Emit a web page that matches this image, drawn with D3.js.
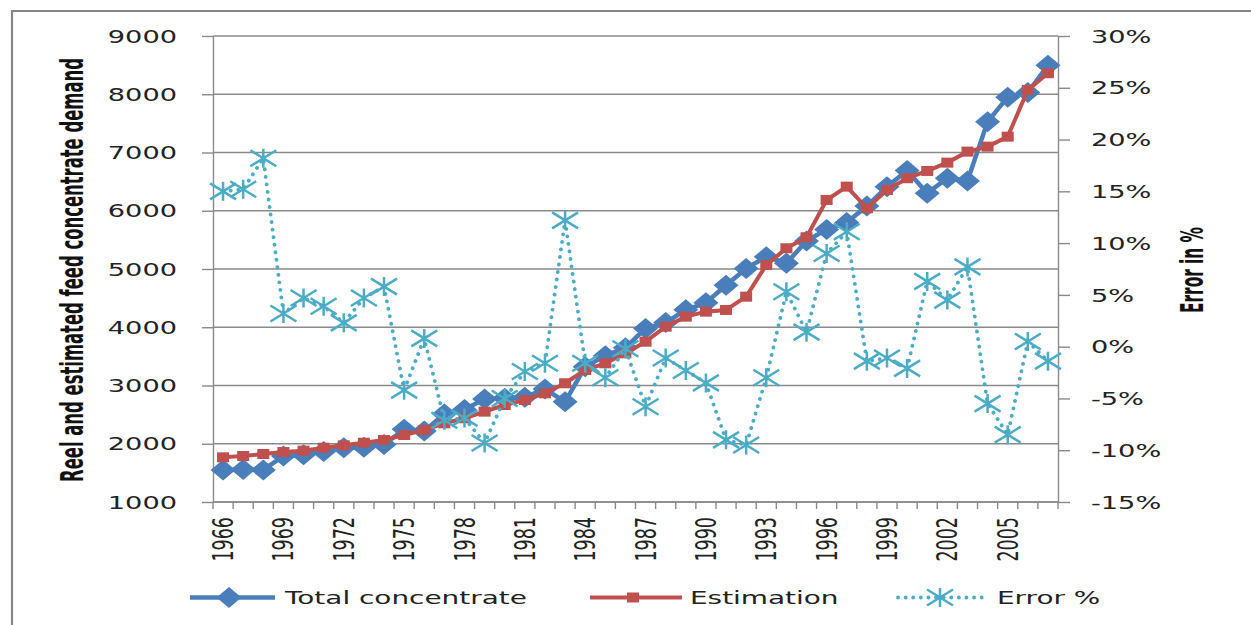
<!DOCTYPE html>
<html>
<head>
<meta charset="utf-8">
<script src="https://cdn.jsdelivr.net/npm/d3@7"></script>
<style>
  html, body { margin: 0; padding: 0; background: #fff; }
  svg { display: block; }
</style>
</head>
<body>
<svg id="chart" width="1251" height="625"></svg>
<script>
const years = [1966,1967,1968,1969,1970,1971,1972,1973,1974,1975,1976,1977,1978,1979,1980,1981,1982,1983,1984,1985,1986,1987,1988,1989,1990,1991,1992,1993,1994,1995,1996,1997,1998,1999,2000,2001,2002,2003,2004,2005,2006,2007];
const totalConcentrate = [1550,1560,1550,1790,1810,1865,1930,1940,1985,2250,2220,2510,2590,2770,2780,2800,2940,2720,3320,3510,3650,3980,4080,4300,4420,4720,5010,5210,5100,5480,5680,5800,6080,6410,6690,6300,6560,6510,7530,7950,8030,8500];
const estimation = [1767,1790,1824,1858,1881,1932,1973,2018,2064,2150,2236,2351,2437,2551,2665,2751,2866,3038,3266,3381,3553,3752,4010,4182,4268,4297,4525,5069,5356,5545,6185,6414,6043,6357,6558,6683,6826,7015,7101,7272,8074,8361];
const errorPct = [15.0,15.2,18.2,3.2,4.7,3.9,2.3,4.7,5.8,-4.2,0.8,-7.1,-6.9,-9.3,-5.0,-2.4,-1.6,12.2,-1.6,-3.0,-0.2,-5.8,-1.1,-2.3,-3.5,-9.0,-9.5,-3.0,5.3,1.4,9.0,11.1,-1.4,-1.1,-2.1,6.3,4.5,7.7,-5.5,-8.5,0.5,-1.4];
const leftTicks = [1000,2000,3000,4000,5000,6000,7000,8000,9000];
const rightTicks = [-15,-10,-5,0,5,10,15,20,25,30];
const xLabelYears = [1966,1969,1972,1975,1978,1981,1984,1987,1990,1993,1996,1999,2002,2005];
const seriesNames = ["Total concentrate", "Estimation", "Error %"];
const leftTitle = "Reel and estimated feed concentrate demand";
const rightTitle = "Error in %";

const C_BLUE = "#4a7ebb", C_RED = "#c0504d", C_AQUA = "#4bacc6", C_GRID = "#8a8a8a";
const SX = 1.6;
const FONT = "'DejaVu Sans', Verdana, sans-serif";
const TFONT = "'Liberation Sans Narrow', 'DejaVu Sans Condensed', 'Arial Narrow', sans-serif";

const svg = d3.select("#chart");
const L = 213, R = 1058, T = 36, B = 502;

const x = d3.scaleBand().domain(years).range([L, R]);
const y = d3.scaleLinear().domain([1000, 9000]).range([B, T]);
const y2 = d3.scaleLinear().domain([-15, 30]).range([B, T]);
const cx = d => x(d) + x.bandwidth() / 2;

// outer frame
svg.append("path").attr("d", "M12,630 L12,11 L1260,11")
  .attr("fill", "none").attr("stroke", "#858585").attr("stroke-width", 2.2);

// gridlines
svg.append("g").selectAll("line").data(leftTicks).join("line")
  .attr("x1", L).attr("x2", R).attr("y1", d => y(d)).attr("y2", d => y(d))
  .attr("stroke", C_GRID).attr("stroke-width", 1.4);

// left axis
const gl = svg.append("g").attr("transform", `translate(${L},0)`)
  .call(d3.axisLeft(y).tickValues(leftTicks).tickSize(11).tickSizeOuter(0).tickPadding(0)
    .tickFormat(d3.format("d")));
gl.select(".domain").attr("stroke", C_GRID).attr("stroke-width", 1.4);
gl.selectAll(".tick line").attr("stroke", C_GRID).attr("stroke-width", 1.4);
gl.selectAll(".tick text").attr("x", null).attr("dy", "0.36em")
  .attr("transform", `translate(-36,0) scale(${SX},1)`)
  .attr("text-anchor", "end").attr("fill", "#222")
  .style("font-family", FONT).style("font-size", "17px");

// right axis
const gr = svg.append("g").attr("transform", `translate(${R},0)`)
  .call(d3.axisRight(y2).tickValues(rightTicks).tickSize(12).tickSizeOuter(0)
    .tickFormat(d => d + "%"));
gr.select(".domain").attr("stroke", C_GRID).attr("stroke-width", 1.4);
gr.selectAll(".tick line").attr("stroke", C_GRID).attr("stroke-width", 1.4);
gr.selectAll(".tick text").attr("x", null).attr("dy", "0.36em")
  .attr("transform", `translate(33,0) scale(${SX},1)`)
  .attr("text-anchor", "start").attr("fill", "#222")
  .style("font-family", FONT).style("font-size", "17px");

// bottom axis line and boundary ticks
svg.append("line").attr("x1", L).attr("x2", R).attr("y1", B).attr("y2", B)
  .attr("stroke", C_GRID).attr("stroke-width", 1.4);
const bounds = years.map(d => x(d)).concat([R]);
svg.append("g").selectAll("line").data(bounds).join("line")
  .attr("x1", d => d).attr("x2", d => d).attr("y1", B).attr("y2", B + 7)
  .attr("stroke", C_GRID).attr("stroke-width", 1.4);

// bottom labels
const gb = svg.append("g").attr("transform", `translate(0,${B})`)
  .call(d3.axisBottom(x).tickValues(xLabelYears).tickSize(0));
gb.select(".domain").remove();
gb.selectAll(".tick text").attr("y", null).attr("dy", "0.36em")
  .attr("transform", `translate(0,15) scale(${SX},1) rotate(-90)`)
  .attr("text-anchor", "end").attr("fill", "#222")
  .style("font-family", FONT).style("font-size", "17.5px");

// axis titles
svg.append("text").text(leftTitle)
  .attr("transform", `translate(83,270) scale(${SX},1) rotate(-90)`)
  .attr("text-anchor", "middle").attr("textLength", 424).attr("lengthAdjust", "spacingAndGlyphs")
  .style("font-family", TFONT).style("font-weight", "bold").style("font-size", "20px").attr("fill", "#111");
svg.append("text").text(rightTitle)
  .attr("transform", `translate(1203,270) scale(${SX},1) rotate(-90)`)
  .attr("text-anchor", "middle").attr("textLength", 86).attr("lengthAdjust", "spacingAndGlyphs")
  .style("font-family", TFONT).style("font-weight", "bold").style("font-size", "20px").attr("fill", "#111");

// markers
const diamond = (g, px, py) => g.append("path")
  .attr("d", `M${px - 12.5},${py} L${px},${py - 10.5} L${px + 12.5},${py} L${px},${py + 10.5} Z`).attr("fill", C_BLUE);
const square = (g, px, py) => g.append("rect")
  .attr("x", px - 6).attr("y", py - 5).attr("width", 12).attr("height", 10).attr("fill", C_RED);
const star = (g, px, py) => g.append("path")
  .attr("d", `M${px - 13},${py - 8} L${px + 13},${py + 8} M${px - 13},${py + 8} L${px + 13},${py - 8} M${px},${py - 9.5} L${px},${py + 9.5}`)
  .attr("stroke", C_AQUA).attr("stroke-width", 2.5).attr("fill", "none");

// series: total
const idx = d3.range(years.length);
const lineT = d3.line().x(i => cx(years[i])).y(i => y(totalConcentrate[i]));
svg.append("path").datum(idx).attr("d", lineT).attr("fill", "none")
  .attr("stroke", C_BLUE).attr("stroke-width", 4.5).attr("stroke-linejoin", "round");
const gT = svg.append("g");
idx.forEach(i => diamond(gT, cx(years[i]), y(totalConcentrate[i])));

// series: estimation
const lineE = d3.line().x(i => cx(years[i])).y(i => y(estimation[i]));
svg.append("path").datum(idx).attr("d", lineE).attr("fill", "none")
  .attr("stroke", C_RED).attr("stroke-width", 4).attr("stroke-linejoin", "round");
const gE = svg.append("g");
idx.forEach(i => square(gE, cx(years[i]), y(estimation[i])));

// series: error
const lineR = d3.line().x(i => cx(years[i])).y(i => y2(errorPct[i]));
svg.append("path").datum(idx).attr("d", lineR).attr("fill", "none")
  .attr("stroke", C_AQUA).attr("stroke-width", 3.8).attr("stroke-linecap", "round")
  .attr("stroke-dasharray", "0.1 7.5");
const gR = svg.append("g");
idx.forEach(i => star(gR, cx(years[i]), y2(errorPct[i])));

// legend
const LY = 597.5;
const lg = svg.append("g");
lg.append("line").attr("x1", 190).attr("x2", 275).attr("y1", LY).attr("y2", LY)
  .attr("stroke", C_BLUE).attr("stroke-width", 4.5);
diamond(lg, 229, LY);
lg.append("line").attr("x1", 590).attr("x2", 682).attr("y1", LY).attr("y2", LY)
  .attr("stroke", C_RED).attr("stroke-width", 4);
square(lg, 633, LY);
lg.append("line").attr("x1", 898).attr("x2", 983).attr("y1", LY).attr("y2", LY)
  .attr("stroke", C_AQUA).attr("stroke-width", 3.8).attr("stroke-linecap", "round").attr("stroke-dasharray", "0.1 7.5");
star(lg, 940, LY);
const legX = [285, 690, 997];
seriesNames.forEach((n, i) => {
  lg.append("text").text(n)
    .attr("transform", `translate(${legX[i]},${LY}) scale(1.55,1)`)
    .attr("dy", "0.36em").attr("fill", "#222")
    .style("font-family", FONT).style("font-size", "18px");
});
</script>
</body>
</html>
